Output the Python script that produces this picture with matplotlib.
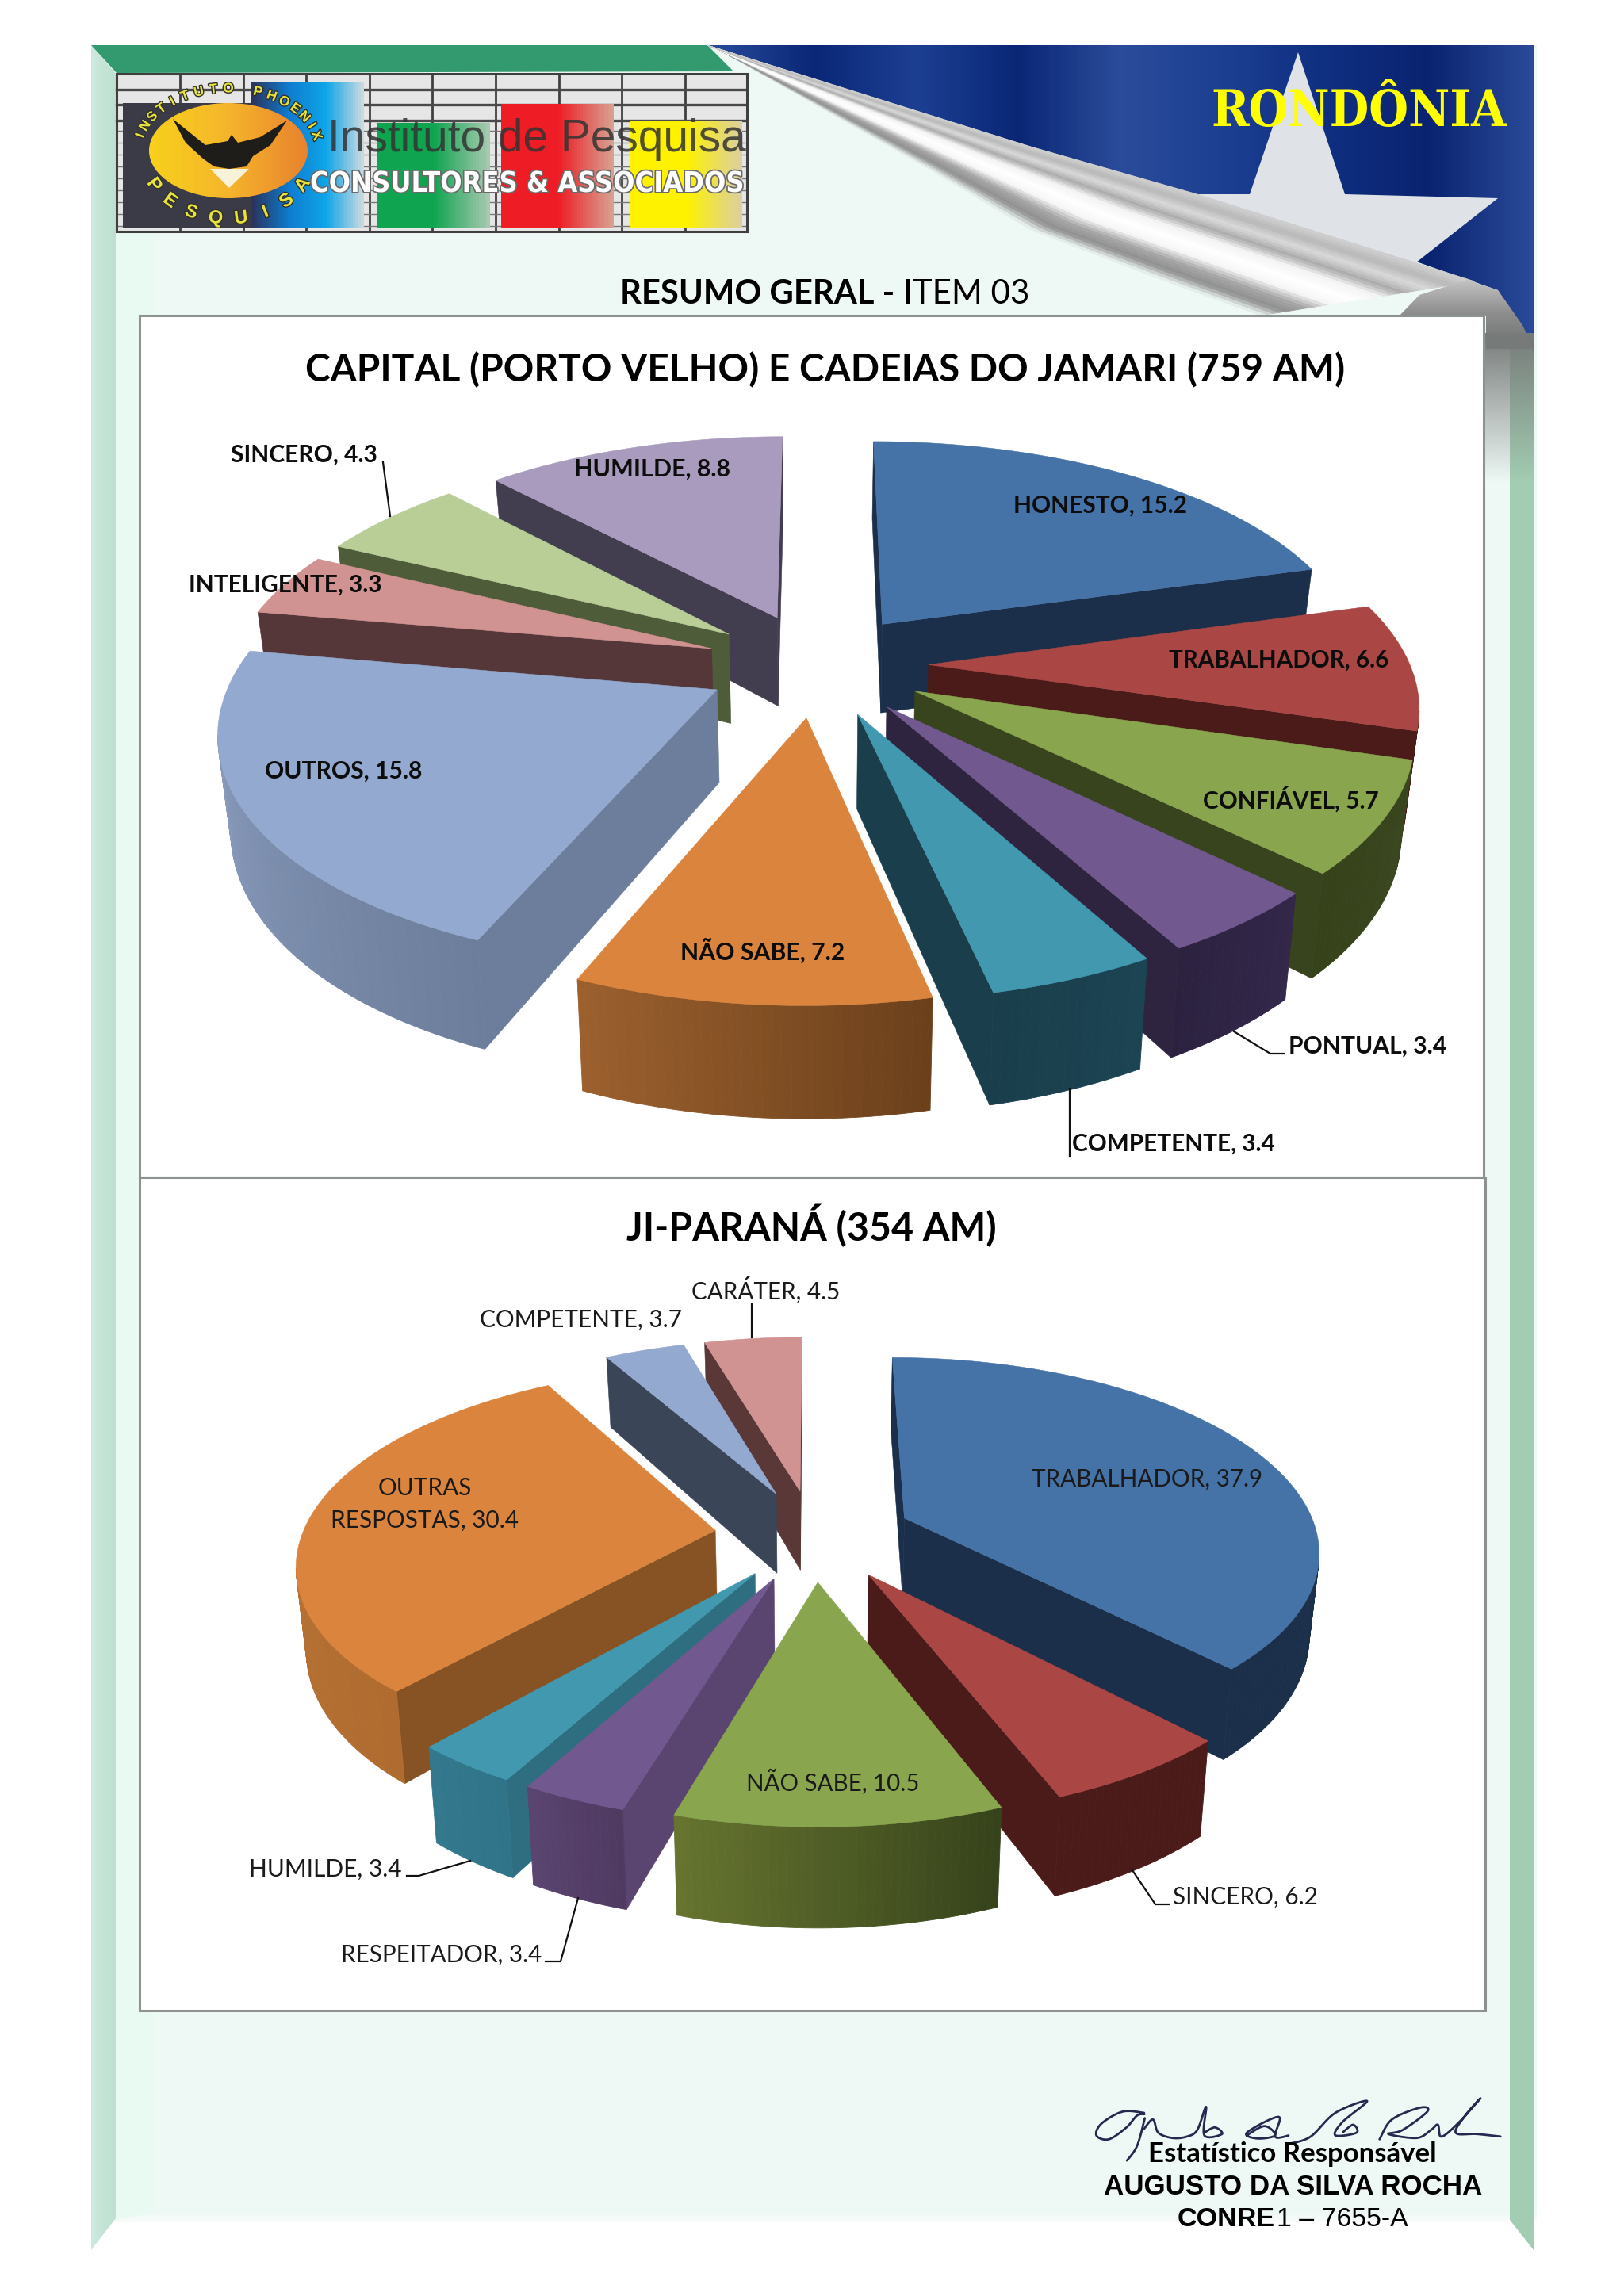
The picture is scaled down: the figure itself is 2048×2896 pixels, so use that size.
import numpy as np
import matplotlib
matplotlib.use("Agg")
import matplotlib.pyplot as plt
import matplotlib.patheffects as pe
from matplotlib.colors import to_rgb, LinearSegmentedColormap
from matplotlib.patches import Polygon, Ellipse, Rectangle

# ---------- data ----------
capital_names = ["HONESTO", "TRABALHADOR", "CONFIÁVEL", "PONTUAL", "COMPETENTE",
                 "NÃO SABE", "OUTROS", "INTELIGENTE", "SINCERO", "HUMILDE"]
capital_values = [15.2, 6.6, 5.7, 3.4, 3.4, 7.2, 15.8, 3.3, 4.3, 8.8]
jip_names = ["TRABALHADOR", "SINCERO", "NÃO SABE", "RESPEITADOR", "HUMILDE",
             "OUTRAS\nRESPOSTAS", "COMPETENTE", "CARÁTER"]
jip_values = [37.9, 6.2, 10.5, 3.4, 3.4, 30.4, 3.7, 4.5]

# ---------- styles ----------
capital_top = ["#4572A7", "#AA4643", "#89A54E", "#71588F", "#4198AF",
               "#DB843D", "#93A9CF", "#D19392", "#B9CD96", "#A99BBD"]
capital_cut = ["#1B2F4A", "#4A1B19", "#38441D", "#2F2440", "#1A3E4B",
               "#8A5426", "#6D7E9C", "#55373A", "#4F5C3A", "#433D50"]
capital_arc = [("#1B2F4A", "#1B2F4A"), ("#4A1B19", "#4A1B19"), ("#3A4720", "#35421A"),
               ("#33274A", "#2C2240"), ("#1C4453", "#1A3E4B"), ("#6B401B", "#9C602E"),
               ("#6D7E9C", "#93A5C6"), ("#55373A", "#55373A"), ("#4F5C3A", "#4F5C3A"),
               ("#433D50", "#433D50")]
jip_top = ["#4572A7", "#AA4643", "#89A54E", "#71588F", "#4198AF", "#DB843D", "#93A9CF", "#D19392"]
jip_cut = ["#1B2F4A", "#4A1B19", "#38441D", "#5A4470", "#2E6E80", "#875324", "#3A4558", "#5A3838"]
jip_arc = [("#1B2F4A", "#1B2F4A"), ("#4A1B19", "#4A1B19"), ("#36431B", "#66742F"),
           ("#4F3A62", "#5A4470"), ("#2F7488", "#33788C"), ("#B06C30", "#C07A38"),
           ("#3A4558", "#3A4558"), ("#5A3838", "#5A3838")]

W, H = 2048, 2896
fig = plt.figure(figsize=(W / 100, H / 100), dpi=100, facecolor="white")
ax = fig.add_axes([0, 0, 1, 1])
ax.axis("off")


def poly(pts, fc, z=1, ec="none", lw=0, **kw):
    p = Polygon(pts, closed=True, facecolor=fc, edgecolor=ec, linewidth=lw, zorder=z, **kw)
    ax.add_patch(p)
    return p


def fit(x, y, s, width, ha="left", z=30, **kw):
    """Text whose size is chosen so that it spans `width` pixels."""
    t = ax.text(x, y, s, ha=ha, va="center", fontsize=20, zorder=z, **kw)
    r = fig.canvas.get_renderer()
    t.set_fontsize(20 * width / t.get_window_extent(r).width)
    return t


def smooth(pts, n=12):
    """Catmull-Rom curve through hand-read stroke points of the signature."""
    p = np.array(pts, float)
    p = np.r_[p[:1], p, p[-1:]]
    out = []
    for i in range(1, len(p) - 2):
        for u in np.linspace(0, 1, n, endpoint=False):
            out.append(.5 * (2 * p[i] + (p[i + 1] - p[i - 1]) * u
                             + (2 * p[i - 1] - 5 * p[i] + 4 * p[i + 1] - p[i + 2]) * u ** 2
                             + (3 * p[i] - p[i - 1] - 3 * p[i + 1] + p[i + 2]) * u ** 3))
    return np.array(out)


# ---------- page ----------
PALE = "#EEF8F5"
poly([(115, 57), (1938, 57), (1938, 2803), (115, 2803)], PALE, z=1)
fade = np.linspace(0, 1, 40)[:, None]
ax.imshow(np.dstack([np.ones((40, 1, 3)), fade]), extent=(115, 1938, 2808, 2790),
          aspect="auto", zorder=1.1, interpolation="bilinear")
poly([(146, 93), (196, 93), (196, 2790), (146, 2800)], "#E9FAF3", z=1.2)
cm_left = LinearSegmentedColormap.from_list("l", ["#CFE9DF", "#C4E4D6", "#BFE0D0"])
left = ax.imshow(np.linspace(0, 1, 50)[None, :], extent=(115, 146, 2845, 57), cmap=cm_left,
                 aspect="auto", zorder=2)
left.set_clip_path(poly([(115, 57), (146, 93), (146, 2798), (115, 2838)], "none", z=2))
poly([(1904, 400), (1934, 400), (1934, 2838), (1904, 2800)], "#A3CDB3", z=2)
poly([(115, 57), (892, 57), (925, 90), (147, 92)], "#329A6E", z=2)

blue_outline = [(892, 57), (1935, 57), (1935, 445), (1889, 366), (1700, 300), (1300, 185)]
cm_blue = LinearSegmentedColormap.from_list("b", ["#2A4C9C", "#0A2776", "#1D3F92", "#0A2776", "#2B4C9A", "#1D3F92",
                                                  "#0F2F80", "#0A2370", "#2A4A98"])
blue = ax.imshow(np.linspace(0, 1, 300)[None, :], extent=(892, 1935, 445, 57), cmap=cm_blue,
                 aspect="auto", zorder=3.1)
blue.set_clip_path(poly(blue_outline, "none", z=3))
poly([(1637, 66), (1696, 245), (1889, 250), (1786, 331), (1600, 300), (1510, 245), (1576, 245)],
     "#DFE2E6", z=3.5)

# curled page corner
low = np.array([(905, 62), (1171, 213), (1300, 290), (1468, 354), (1590, 398)], float)
upp = np.array([(892, 57), (1300, 185), (1510, 245), (1784, 331), (1860, 355)], float)
tt = np.linspace(0, 1, 80)
s4 = np.linspace(0, 1, 5)
lows = np.c_[np.interp(tt, s4, low[:, 0]), np.interp(tt, s4, low[:, 1])]
upps = np.c_[np.interp(tt, s4, upp[:, 0]), np.interp(tt, s4, upp[:, 1])]
cm_curl = LinearSegmentedColormap.from_list("c", ["#EEF8F5", "#8F8F8F", "#A8A8A8", "#F8F8F8", "#FFFFFF", "#F4F4F4",
                                                  "#ABABAB", "#DADADA", "#B8B8B8", "#D0D0D0"])
for f in np.linspace(0, 1, 36)[:-1]:
    g = f + 1 / 35
    col = cm_curl(f + .5 / 35)
    poly(np.r_[lows + (upps - lows) * f, (lows + (upps - lows) * g)[::-1]], col, z=4, ec=col, lw=.5)
# rolled cylinder above the panel's right edge
cm_cyl = LinearSegmentedColormap.from_list("y", ["#C9C9C9", "#8E8E8E", "#6F7271"])
cyl = ax.imshow(np.linspace(0, 1, 60)[:, None], extent=(1740, 1935, 440, 348), cmap=cm_cyl, aspect="auto", zorder=4.5)
cyl.set_clip_path(poly([(1765, 398), (1790, 372), (1850, 353), (1889, 366), (1920, 410), (1934, 440), (1874, 440),
                        (1874, 398)], "none", z=4.4))
shade = np.zeros((80, 1, 4))
shade[..., :3] = to_rgb("#777B79")
shade[..., 3] = np.linspace(1, 0, 80)[:, None]
ax.imshow(shade, extent=(1870, 1934, 610, 420), aspect="auto", zorder=5, interpolation="bilinear")

# ---------- logo ----------
poly([(147, 93), (942, 93), (942, 292), (147, 292)], "#E6E6E6", z=6)
for gx in np.arange(147 + 80, 942, 79.6):
    ax.plot([gx, gx], [93, 292], color="#3F3F3F", lw=2, zorder=6.1)
for gy in (113, 132, 152):
    ax.plot([147, 942], [gy, gy], color="#4A4A4A", lw=2.4, zorder=6.1)
for gy in np.arange(165, 292, 15):
    ax.plot([147, 942], [gy, gy], color="#777777", lw=1, zorder=6.1)
poly([(147, 93), (942, 93), (942, 292), (147, 292)], "none", z=6.9, ec="#3F3F3F", lw=2.2)
bars = [(317, 459, 103, ["#2A3660", "#0E7CD0", "#0EA5E8", "#C8D8E0"]), (476, 618, 155, ["#0FA550", "#0FA550", "#A8C8B0"]),
        (632, 774, 131, ["#EE1C25", "#EE1C25", "#D8A090"]), (794, 936, 153, ["#FFF200", "#FFF200", "#DCD0A0"])]
for x0, x1, y0, cols in bars:
    cm = LinearSegmentedColormap.from_list("g", cols)
    ax.imshow(np.linspace(0, 1, 40)[None, :], extent=(x0, x1, 288, y0), cmap=cm, aspect="auto", zorder=6.2)
poly([(155, 130), (317, 130), (317, 288), (155, 288)], "#3B3B48", z=6.3)
cm_g = LinearSegmentedColormap.from_list("g", ["#F8D01C", "#F5B52C", "#E8832E"])
gold = ax.imshow(np.linspace(0, 1, 40)[None, :], extent=(188, 388, 250, 130), cmap=cm_g, aspect="auto", zorder=6.5)
gold.set_clip_path(ax.add_patch(Ellipse((288, 190), 200, 120, fc="none", ec="none", zorder=6.4)))
poly([(218, 150), (259, 183), (287, 178), (292, 170), (300, 180), (328, 173), (362, 152), (341, 183), (319, 197),
      (311, 210), (289, 213), (270, 210), (256, 200), (234, 180)], "#1F1D1A", z=6.6)
poly([(265, 213), (314, 213), (289, 237)], "#F8F3D8", z=6.55)
ring = [pe.withStroke(linewidth=2, foreground="#30302A")]
for ch, a in zip("INSTITUTO PHOENIX", np.linspace(-76, 76, 17)):
    ra = np.radians(a)
    rot = -np.degrees(np.arctan2(78 * np.sin(ra), 114 * np.cos(ra)))
    ax.text(288 + 114 * np.sin(ra), 190 - 78 * np.cos(ra), ch, rotation=rot, ha="center", va="center",
            fontsize=12.5, fontweight="bold", color="#E8E23C", family="Liberation Sans", zorder=6.7, path_effects=ring)
for ch, a in zip("PESQUISA", np.linspace(-60, 60, 8)):
    ra = np.radians(a)
    rot = np.degrees(np.arctan2(86 * np.sin(ra), 108 * np.cos(ra)))
    ax.text(288 + 108 * np.sin(ra), 190 + 86 * np.cos(ra), ch, rotation=rot, ha="center", va="center",
            fontsize=17, fontweight="bold", color="#E8E23C", family="Liberation Sans", zorder=6.7, path_effects=ring)
fit(413, 176, "Instituto de Pesquisa", 526, color="#333333", family="Liberation Sans", z=6.8, alpha=.85)
cons = fit(391, 232, "CONSULTORES & ASSOCIADOS", 547, color="white", family="DejaVu Sans", stretch="condensed",
           fontweight="bold", z=6.8)
cons.set_path_effects([pe.withStroke(linewidth=2.5, foreground="#6A6A6A")])

# state name
fit(1527, 141, "RONDÔNIA", 373, color="#FFFF00", family="DejaVu Serif", stretch="condensed", fontweight="bold", z=8)

# ---------- panels ----------
for (x0, y0, x1, y1) in [(176, 398, 1871, 1485), (176, 1485, 1873, 2536)]:
    ax.add_patch(Rectangle((x0, y0), x1 - x0, y1 - y0, fc="white", ec="#8D9490", lw=2.2, zorder=9))

MAIN = "Lato"
fit(782, 371, "RESUMO GERAL - ", 356, fontweight="bold", family=MAIN)
fit(1139, 371, "ITEM 03", 159, family=MAIN)
fit(385, 467, "CAPITAL (PORTO VELHO) E CADEIAS DO JAMARI (759 AM)", 1310, fontweight="bold", family=MAIN)
fit(790, 1546, "JI-PARANÁ (354 AM)", 467, fontweight="bold", family=MAIN)


# ---------- exploded perspective pies ----------
def draw_pie(values, tops, cuts, arcs, cx, cy, rx, ry, k, depth, explode, shrink):
    vals = np.asarray(values, float)
    edges = np.r_[0, np.cumsum(vals)] / vals.sum() * 2 * np.pi

    def proj(X, Y, z=0.0):
        s = 1 / (1 + k * Y)
        f = shrink if z else 1.0
        return np.c_[cx + rx * X * s * f, cy - ry * Y * s + z * s]

    mids = (edges[:-1] + edges[1:]) / 2
    order = np.argsort(-np.cos(mids))
    for n, i in enumerate(order):
        a0, a1, m = edges[i], edges[i + 1], mids[i]
        ox, oy = explode * np.sin(m), explode * np.cos(m)
        th = np.linspace(a0, a1, max(3, int(np.degrees(a1 - a0)) + 2))
        X = np.r_[ox, ox + np.sin(th)]
        Y = np.r_[oy, oy + np.cos(th)]
        T, B = proj(X, Y), proj(X, Y, depth)
        base = 10 + n
        for a, b in [(0, 1), (len(X) - 1, 0)]:
            if T[b, 0] - T[a, 0] < 0:
                poly([T[a], T[b], B[b], B[a]], cuts[i], z=base, ec=cuts[i], lw=.4)
        c0, c1 = np.array(to_rgb(arcs[i][0])), np.array(to_rgb(arcs[i][1]))
        for j in range(1, len(X) - 1):
            if T[j + 1, 0] - T[j, 0] < 0:
                col = c0 + (c1 - c0) * (j - 1) / max(1, len(X) - 3)
                poly([T[j], T[j + 1], B[j + 1], B[j]], col, z=base + .1, ec=col, lw=.6)
        poly(T, tops[i], z=base + .2, ec=tops[i], lw=.4)


draw_pie(capital_values, capital_top, capital_cut, capital_arc, 1030, 838, 607, 281.6, .158, 115, .232, .978)
draw_pie(jip_values, jip_top, jip_cut, jip_arc, 1026, 1936, 521, 240, .155, 103, .24, .98)

# ---------- labels ----------
capital_boxes = [(1278, 638, 219), (1474, 833, 277), (1517, 1008, 222), (1625, 1320, 200), (1352, 1443, 256),
                 (858, 1200, 208), (334, 973, 199), (238, 738, 244), (291, 574, 186), (724, 592, 197)]
for nm, v, (x, y, w) in zip(capital_names, capital_values, capital_boxes):
    fit(x, y, f"{nm}, {v}", w, fontweight="bold", family=MAIN, color="#0D0D0D")
jip_boxes = [(1301, 1866, 290), (1479, 2393, 182), (941, 2248, 218), (430, 2466, 252), (314, 2358, 192),
             (417, 1897, 236), (605, 1665, 254), (872, 1627, 187)]
for nm, v, (x, y, w) in zip(jip_names, jip_values, jip_boxes):
    fit(x, y, f"{nm}, {v}", w, family=MAIN, color="#1A1A1A", multialignment="center", linespacing=1.55)

leaders = [[(483, 583), (492, 651)], [(1556, 1301), (1602, 1329), (1619, 1329)], [(1349, 1373), (1349, 1458)],
           [(948, 1645), (948, 1687)], [(1428, 2359), (1457, 2402), (1474, 2402)],
           [(513, 2366), (528, 2366), (593, 2347)], [(688, 2474), (707, 2474), (729, 2394)]]
for pts in leaders:
    xs, ys = zip(*pts)
    ax.plot(xs, ys, color="#111111", lw=1.6, zorder=29)

# ---------- footer ----------
strokes = [
    [(320, 195), (260, 190), (200, 235), (185, 280), (220, 295), (270, 250), (300, 205), (322, 200)],
    [(322, 215), (300, 320), (270, 378)],
    [(320, 255), (345, 220), (360, 270), (400, 290), (440, 285), (470, 260), (495, 172), (490, 280), (540, 275),
     (520, 250), (490, 270)],
    [(610, 280), (660, 245), (690, 280), (640, 292), (610, 270), (700, 210), (690, 285), (730, 280)],
    [(730, 312), (790, 285), (860, 195), (950, 150), (880, 230), (860, 280), (920, 270), (910, 240), (880, 270)],
    [(985, 295), (1020, 220), (1100, 175), (1120, 190), (1050, 260), (1010, 275), (1090, 290), (1130, 260),
     (1150, 240), (1160, 285), (1210, 230), (1270, 140), (1230, 200), (1200, 270), (1260, 275), (1330, 285)],
]
for st in strokes:
    c = smooth(st)
    ax.plot(1300 + c[:, 0] / 2.24, 2600 + c[:, 1] / 3, color="#26294F", lw=2, zorder=20, solid_capstyle="round")
fit(1448, 2717, "Estatístico Responsável", 364, fontweight="bold", family=MAIN)
fit(1392, 2758, "AUGUSTO DA SILVA ROCHA", 477, fontweight="bold", family="Liberation Sans")
fit(1485, 2800, "CONRE", 123, fontweight="bold", family="Liberation Sans")
fit(1610, 2800, "1 – 7655-A", 166, family="Liberation Sans")

ax.set_xlim(0, W)
ax.set_ylim(H, 0)
fig.savefig("out.png", dpi=100, facecolor="white")
